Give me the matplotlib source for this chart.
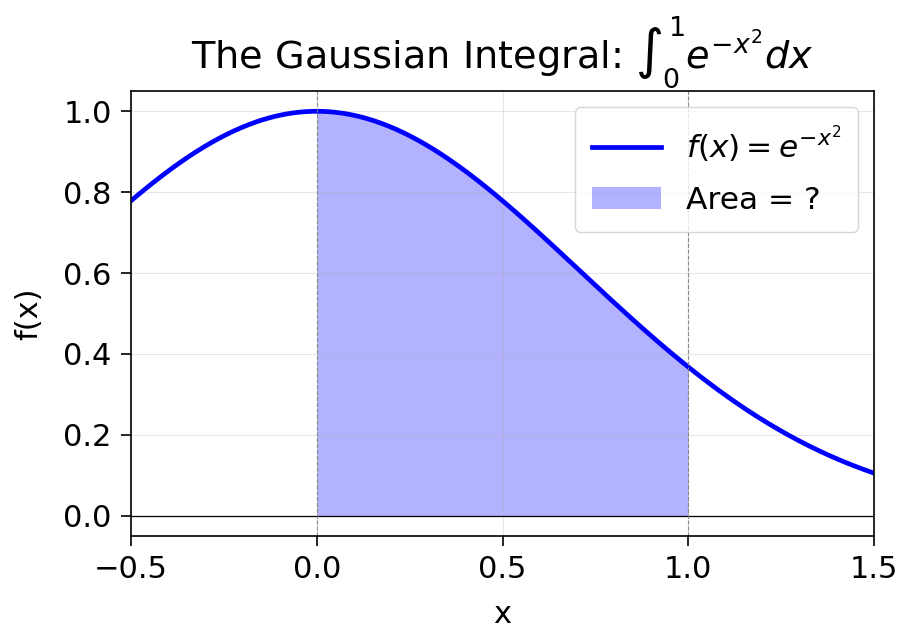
import numpy as np
import matplotlib.pyplot as plt


# plotted range and integration limits
x_range = [-0.5, 1.5]
limits = [0.0, 1.0]
x_ticks = [-0.5, 0.0, 0.5, 1.0, 1.5]
y_ticks = [0.0, 0.2, 0.4, 0.6, 0.8, 1.0]


def f(x):
    return np.exp(-x ** 2)


x = np.linspace(x_range[0], x_range[1], 500)
x_fill = np.linspace(limits[0], limits[1], 300)

fig = plt.figure(figsize=(9, 6.28), dpi=100)
ax = fig.add_axes([0.1456, 0.1465, 0.8255, 0.7085])

ax.plot(x, f(x), color="blue", lw=3.4, label=r"$f(x) = e^{-x^2}$")
ax.fill_between(x_fill, f(x_fill), color="blue", alpha=0.3, lw=0, label="Area = ?")

ax.axhline(0, color="black", lw=0.9)
for lim in limits:
    ax.axvline(lim, color="gray", ls="--", lw=0.8, alpha=0.9)

ax.set_xlim(x_range)
ax.set_ylim(-0.05, 1.05)
ax.set_xticks(x_ticks)
ax.set_yticks(y_ticks)
ax.grid(True, alpha=0.3)
ax.tick_params(labelsize=22, width=1.2, length=7, pad=7)
for s in ax.spines.values():
    s.set_linewidth(1.2)

ax.set_xlabel("x", fontsize=22, labelpad=11)
ax.set_ylabel("f(x)", fontsize=22, labelpad=14)
ax.set_title(r"The Gaussian Integral: $\int_0^1 e^{-x^2}dx$", fontsize=27.5, pad=16)
ax.legend(loc="upper right", fontsize=22.5, handlelength=2.2, labelspacing=0.65,
          borderpad=0.55, handletextpad=0.8)

plt.savefig("out.png", dpi=100)
